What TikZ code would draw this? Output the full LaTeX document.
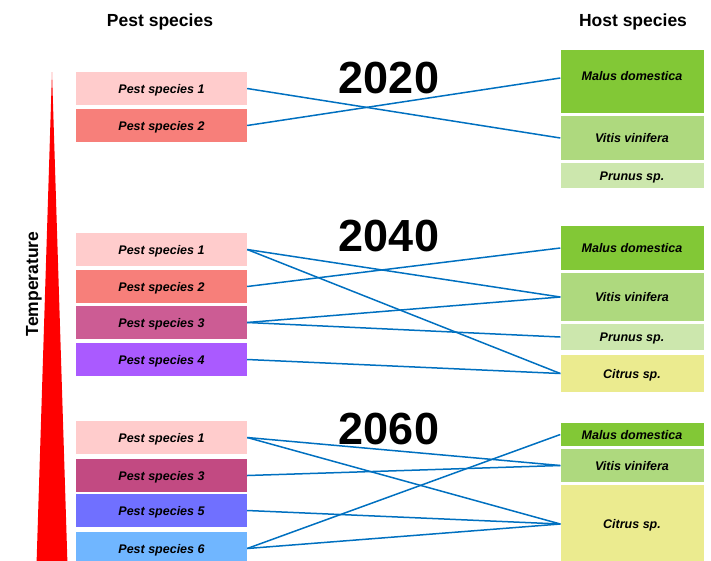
\documentclass[tikz,border=0pt]{standalone}
\usepackage{fontspec}
\setmainfont{Liberation Sans}
\usetikzlibrary{positioning}

\definecolor{pestA}{HTML}{FFCCCC}
\definecolor{pestB}{HTML}{F77F7A}
\definecolor{pestC}{HTML}{CC5C94}
\definecolor{pestCdark}{HTML}{C24A82}
\definecolor{pestD}{HTML}{AA5AFF}
\definecolor{pestE}{HTML}{7070FF}
\definecolor{pestF}{HTML}{70B6FF}
\definecolor{malus}{HTML}{82C836}
\definecolor{vitis}{HTML}{AED97E}
\definecolor{prunus}{HTML}{CCE7AD}
\definecolor{citrus}{HTML}{EBEB8F}
\definecolor{linkblue}{HTML}{0070C0}

\tikzset{
  pest/.style={minimum width=171pt, minimum height=33pt, inner sep=0pt,
    text height=9pt, text depth=0pt,
    font=\fontsize{12.5}{14}\selectfont\bfseries\itshape},
  host/.style={minimum width=143pt, inner sep=0pt,
    text height=9pt, text depth=0pt,
    font=\fontsize{12.5}{14}\selectfont\bfseries\itshape},
  link/.style={draw=linkblue, line width=1.5pt},
  year/.style={font=\fontsize{45}{50}\selectfont\bfseries},
  heading/.style={font=\fontsize{17.5}{20}\selectfont\bfseries}
}

\begin{document}
\begin{tikzpicture}[x=1pt, y=-1pt]
\useasboundingbox (0,0) rectangle (711,560);

\node[heading] (PestHead) at (160,22) {Pest species};
\node[heading] (HostHead) at (633,22) {Host species};

\fill[red] (52,72) -- (67.5,565) -- (36.5,565) -- cycle;
\node[heading, rotate=90] (Temp) at (34,284) {Temperature};

% 2020
\node[year] (Y20) at (389,78) {2020};
\node[pest, fill=pestA] (P1a) at (161.5,88.5) {Pest species 1};
\node[pest, fill=pestB] (P2a) at (161.5,125.5) {Pest species 2};
\node[host, fill=malus, minimum height=63pt, text depth=11pt] (Ma) at (632,81.5) {Malus domestica};
\node[host, fill=vitis, minimum height=44pt] (Va) at (632,138) {Vitis vinifera};
\node[host, fill=prunus, minimum height=25pt] (Pa) at (632,175.5) {Prunus sp.};

\draw[link] (P1a.east) -- (Va.west);
\draw[link] (P2a.east) -- ([yshift=3.5pt]Ma.west);

% 2040
\node[year] (Y40) at (389,236) {2040};
\node[pest, fill=pestA] (P1b) at (161.5,249.5) {Pest species 1};
\node[pest, fill=pestB] (P2b) at (161.5,286.5) {Pest species 2};
\node[pest, fill=pestC] (P3b) at (161.5,322.5) {Pest species 3};
\node[pest, fill=pestD] (P4b) at (161.5,359.5) {Pest species 4};
\node[host, fill=malus, minimum height=44pt] (Mb) at (632,248) {Malus domestica};
\node[host, fill=vitis, minimum height=48pt] (Vb) at (632,297) {Vitis vinifera};
\node[host, fill=prunus, minimum height=26pt] (Pb) at (632,337) {Prunus sp.};
\node[host, fill=citrus, minimum height=37pt] (Cb) at (632,373.5) {Citrus sp.};

\draw[link] (P1b.east) -- (Vb.west);
\draw[link] (P1b.east) -- (Cb.west);
\draw[link] (P2b.east) -- (Mb.west);
\draw[link] (P3b.east) -- (Vb.west);
\draw[link] (P3b.east) -- (Pb.west);
\draw[link] (P4b.east) -- (Cb.west);

% 2060
\node[year] (Y60) at (389,429) {2060};
\node[pest, fill=pestA] (P1c) at (161.5,437.5) {Pest species 1};
\node[pest, fill=pestCdark] (P3c) at (161.5,475.5) {Pest species 3};
\node[pest, fill=pestE] (P5c) at (161.5,510.5) {Pest species 5};
\node[pest, fill=pestF] (P6c) at (161.5,548.5) {Pest species 6};
\node[host, fill=malus, minimum height=23pt] (Mc) at (632,434.5) {Malus domestica};
\node[host, fill=vitis, minimum height=33pt] (Vc) at (632,465.5) {Vitis vinifera};
\node[host, fill=citrus, minimum height=78pt] (Cc) at (632,524) {Citrus sp.};

\draw[link] (P1c.east) -- (Vc.west);
\draw[link] (P1c.east) -- (Cc.west);
\draw[link] (P3c.east) -- (Vc.west);
\draw[link] (P5c.east) -- (Cc.west);
\draw[link] (P6c.east) -- (Mc.west);
\draw[link] (P6c.east) -- (Cc.west);
\end{tikzpicture}
\end{document}
